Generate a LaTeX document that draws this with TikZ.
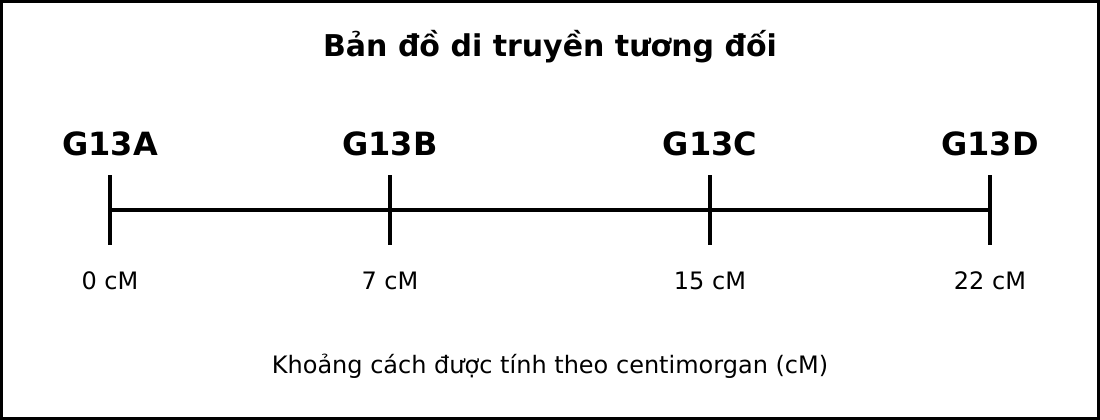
\documentclass[tikz,border=0pt]{standalone}
\usepackage{fontspec}
\setmainfont{DejaVu Sans}
\usetikzlibrary{positioning}

\begin{document}
\begin{tikzpicture}[
      x=1pt,y=-1pt,
      axis/.style={line width=4,line cap=butt},
      gene/.style={anchor=base,font=\fontsize{32}{38}\selectfont\bfseries},
      dist/.style={anchor=base,font=\fontsize{24}{28}\selectfont},
      ]
      % frame
      \draw[line width=3] (1.5,1.5) rectangle (1098.5,418.5);
      \node[anchor=base,font=\fontsize{30}{36}\selectfont\bfseries] (title)
        at (550,57) {Bản đồ di truyền tương đối};

      \coordinate (A) at (110,210);
      \coordinate (B) at (390,210);
      \coordinate (C) at (710,210);
      \coordinate (D) at (990,210);

      \draw[axis] (A) -- (D);
      \foreach \g/\d in {A/0,B/7,C/15,D/22}{
        \draw[axis] ([yshift=35pt]\g) -- ([yshift=-35pt]\g);
        \node[gene] (g\g) at ([yshift=55pt]\g) {G13\g};
        \node[dist] (d\g) at ([yshift=-79pt]\g) {\d{} cM};
      }

      \node[dist] (note) at (550,373) {Khoảng cách được tính theo centimorgan (cM)};
  \end{tikzpicture}
\end{document}
